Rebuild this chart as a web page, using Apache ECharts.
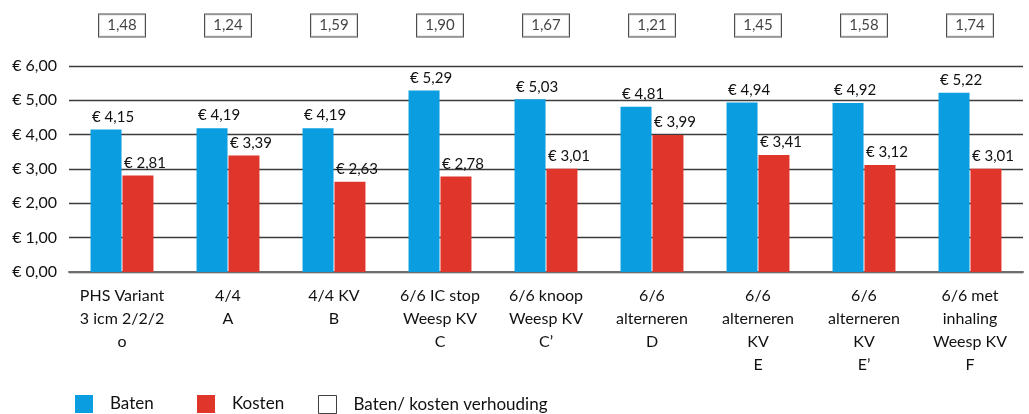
<!DOCTYPE html>
<html>
<head>
<meta charset="utf-8">
<script src="https://cdn.jsdelivr.net/npm/echarts@6/dist/echarts.min.js"></script>
<style>
  html, body { margin: 0; padding: 0; background: #fff; }
  #chart { width: 1029px; height: 414px; }
</style>
</head>
<body>
<div id="chart"></div>
<script>
const categories = [
  'PHS Variant\n3 icm 2/2/2\no',
  '4/4\nA',
  '4/4 KV\nB',
  '6/6 IC stop\nWeesp KV\nC',
  '6/6 knoop\nWeesp KV\nC\u2019',
  '6/6\nalterneren\nD',
  '6/6\nalterneren\nKV\nE',
  '6/6\nalterneren\nKV\nE\u2019',
  '6/6 met\ninhaling\nWeesp KV\nF'
];
const baten = [4.15, 4.19, 4.19, 5.29, 5.03, 4.81, 4.94, 4.92, 5.22];
const kosten = [2.81, 3.39, 2.63, 2.78, 3.01, 3.99, 3.41, 3.12, 3.01];
const verhouding = [1.48, 1.24, 1.59, 1.90, 1.67, 1.21, 1.45, 1.58, 1.74];
const yTicks = [0, 1, 2, 3, 4, 5, 6];

const FONT = 'Lato';
const BLUE = '#0a9ddf';
const RED = '#e0352b';
const euro = v => '\u20ac ' + v.toFixed(2).replace('.', ',');

const chart = echarts.init(document.getElementById('chart'));

const barLabel = {
  show: true,
  position: 'top',
  align: 'left',
  offset: [-14, 0],
  distance: 5,
  fontFamily: FONT,
  fontSize: 15,
  color: '#111',
  formatter: p => euro(p.value)
};

const legendText = { fontFamily: FONT, fontSize: 17, color: '#111', padding: [2, 0, 0, 12] };
const legendBase = { top: 395, padding: 0, itemWidth: 18, itemHeight: 18, icon: 'rect', textStyle: legendText };

chart.setOption({
  animation: false,
  grid: [
    { left: 69, right: 6, top: 66, bottom: 142 },
    { left: 69, right: 6, top: 0, height: 51 }
  ],
  legend: [
    Object.assign({ data: ['Baten'], left: 75 }, legendBase),
    Object.assign({ data: ['Kosten'], left: 197 }, legendBase),
    Object.assign({
      data: [{ name: 'Baten/ kosten verhouding', itemStyle: { color: '#fff', borderColor: '#111', borderWidth: 1 } }],
      left: 318
    }, legendBase)
  ],
  xAxis: [
    {
      type: 'category',
      gridIndex: 0,
      data: categories,
      axisLine: { lineStyle: { color: '#6e6e6e', width: 2 } },
      axisTick: { inside: true, length: 5, lineStyle: { color: '#6e6e6e' } },
      axisLabel: { interval: 0, margin: 12, fontFamily: FONT, fontSize: 16, lineHeight: 23, color: '#111' }
    },
    { type: 'category', gridIndex: 1, data: categories, show: false }
  ],
  yAxis: [
    {
      type: 'value',
      gridIndex: 0,
      min: yTicks[0],
      max: yTicks[yTicks.length - 1],
      interval: 1,
      axisLine: { show: false },
      axisTick: { show: false },
      splitLine: { lineStyle: { color: '#3c3c3c', width: 1.3 } },
      axisLabel: { margin: 12, fontFamily: FONT, fontSize: 16, color: '#111', formatter: v => euro(v) }
    },
    { type: 'value', gridIndex: 1, min: 0, max: 1, show: false }
  ],
  series: [
    {
      name: 'Baten', type: 'bar', xAxisIndex: 0, yAxisIndex: 0,
      data: baten, barWidth: 31, barGap: '3%',
      itemStyle: { color: BLUE }, label: barLabel
    },
    {
      name: 'Kosten', type: 'bar', xAxisIndex: 0, yAxisIndex: 0,
      data: kosten, barWidth: 31, barGap: '3%',
      itemStyle: { color: RED }, label: barLabel
    },
    {
      name: 'Baten/ kosten verhouding', type: 'scatter', xAxisIndex: 1, yAxisIndex: 1,
      data: verhouding.map((v, i) => [i, 0.5, v]),
      symbolSize: 0,
      itemStyle: { color: '#fff', borderColor: '#111', borderWidth: 1 },
      label: {
        show: true,
        position: 'inside',
        fontFamily: FONT,
        fontSize: 15,
        color: '#111',
        backgroundColor: '#fff',
        borderColor: '#222',
        borderWidth: 1,
        width: 34,
        align: 'center',
        padding: [4, 6, 3, 6],
        formatter: p => p.value[2].toFixed(2).replace('.', ',')
      }
    }
  ]
});
</script>
</body>
</html>
